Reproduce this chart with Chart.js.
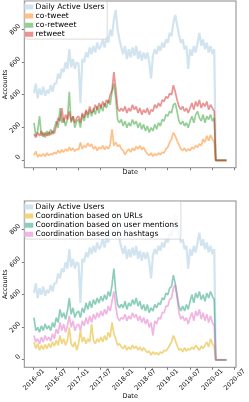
<!DOCTYPE html>
<html><head><meta charset="utf-8">
<script src="https://cdn.jsdelivr.net/npm/chart.js@4.4.1/dist/chart.umd.min.js"></script>
<style>
html,body{margin:0;padding:0;background:#fff;width:249px;height:402px;overflow:hidden;}
canvas{position:absolute;left:0;}
#c1{top:0;width:249px;height:200px;}
#c2{top:200px;width:249px;height:202px;}
</style></head><body>
<canvas id="c1" width="249" height="200"></canvas>
<canvas id="c2" width="249" height="202"></canvas>
<script>
// ---- data (half-month samples starting 2016-01, month index = i/2) ----
const tickMonths = [0, 6, 12, 18, 24, 30, 36, 42, 48, 54];
const yTicks = [0, 200, 400, 600, 800];
const tailMonths = [48.9, 51.8];
const tailValues = [0, 0];

const dau = [
 410,470,380,440,400,450,395,430,410,460,420,470,
 470,530,500,560,540,600,560,680,570,620,560,600,
 590,350,620,600,660,630,690,650,700,660,720,680,
 700,740,690,760,720,800,760,860,920,800,740,690,
 650,700,620,680,630,690,640,700,620,670,610,660,
 620,660,600,500,640,680,650,700,670,720,690,740,
 720,780,760,840,890,830,770,720,740,680,700,560,
 680,640,700,660,720,780,700,740,680,720,660,700,
 650,680];
const coTweet = [
 30,55,20,35,25,40,25,45,30,40,35,50,
 40,60,45,65,50,70,55,80,60,75,55,70,
 65,110,70,90,80,105,85,100,70,85,60,80,
 70,90,65,85,70,95,190,90,110,85,95,70,
 60,35,55,70,50,75,60,85,70,90,65,80,
 55,40,30,45,25,40,30,45,35,50,45,70,
 80,110,130,170,150,120,95,70,60,75,55,70,
 60,80,70,90,80,100,90,130,110,150,120,155,
 130,110];
const coRetweet = [
 230,150,180,270,150,170,140,180,150,190,160,200,
 240,200,320,230,260,210,250,420,230,270,200,240,
 250,200,280,240,300,260,310,270,320,280,330,290,
 340,300,350,320,370,340,420,470,380,250,230,250,
 210,240,200,230,210,250,220,240,200,230,190,220,
 180,210,170,200,180,220,190,230,210,250,240,280,
 270,300,290,340,350,300,240,220,240,210,230,200,
 240,270,230,280,300,260,240,280,230,270,250,280,
 240,260];
const retweet = [
 160,140,170,150,180,145,170,150,175,155,180,165,
 210,260,240,320,230,280,250,300,240,270,230,260,
 270,230,290,260,310,280,330,290,300,340,310,350,
 320,360,330,370,350,400,430,540,440,320,300,320,
 300,330,290,320,300,340,310,330,290,320,280,310,
 290,320,280,310,300,340,320,350,330,370,360,390,
 380,410,400,460,420,370,330,310,330,300,320,290,
 320,350,310,360,330,370,320,350,330,360,310,340,
 320,300];
const urls = [
 110,70,100,60,90,65,95,70,100,75,110,85,
 120,90,150,100,130,90,120,200,100,80,110,60,
 100,180,110,140,100,130,110,220,120,100,130,110,
 140,110,150,120,170,140,230,160,130,90,100,80,
 70,90,60,80,65,90,70,85,60,80,55,75,
 60,45,55,30,50,35,45,30,50,40,60,55,
 70,90,110,150,120,90,60,70,50,75,55,70,
 60,80,65,90,75,60,85,70,90,110,80,130,
 100,80];
const mentions = [
 260,180,200,170,210,180,220,190,210,180,230,200,
 260,230,310,260,290,250,300,380,280,320,260,290,
 300,260,320,290,350,310,360,320,370,340,380,350,
 390,360,400,370,420,390,460,560,420,340,320,340,
 320,360,310,350,330,370,340,380,330,360,310,340,
 300,340,290,320,300,340,320,350,340,380,370,410,
 400,440,450,520,470,400,330,300,330,300,340,310,
 360,400,350,410,380,420,370,400,360,410,380,420,
 390,370];
const hashtags = [
 150,110,130,100,140,110,150,120,140,115,160,130,
 190,160,230,180,220,170,210,270,200,240,180,210,
 220,180,240,210,260,220,270,230,280,250,290,260,
 300,270,310,280,330,300,360,420,330,260,240,260,
 250,280,240,270,250,290,260,280,240,270,230,260,
 220,250,200,230,150,240,220,260,250,290,290,330,
 330,370,380,440,460,380,290,250,270,240,260,220,
 260,290,240,300,270,310,250,290,240,280,230,270,
 230,210];

const topLabels = ['Daily Active Users', 'co-tweet', 'co-retweet', 'retweet'];
const bottomLabels = ['Daily Active Users', 'Coordination based on URLs', 'Coordination based on user mentions', 'Coordination based on hashtags'];

// ---- styling ----
const FONT = 'DejaVu Sans';
const LEG_FS = 7.6, LEG_PAD = 1.5;

function toPoints(values) {
  const pts = values.map((v, i) => ({x: i / 2, y: v}));
  tailMonths.forEach((m, k) => pts.push({x: m, y: tailValues[k]}));
  return pts;
}
function monthLabel(v) {
  const y = 2016 + Math.floor(v / 12);
  const mo = (v % 12) + 1;
  return y + '-' + String(mo).padStart(2, '0');
}

const framePlugin = {
  id: 'frame',
  afterInit(chart) {
    if (chart.legend) chart.legend._layers = () => [];
  },
  afterLayout(chart) {
    if (chart.legend) { chart.legend.top = chart.chartArea.top + 0.7; chart.legend.left = chart.chartArea.left; }
  },
  afterDatasetsDraw(chart) {
    const ctx = chart.ctx, a = chart.chartArea;
    ctx.save();
    ctx.strokeStyle = '#8a8a8a';
    ctx.lineWidth = 1;
    ctx.strokeRect(a.left, a.top, a.right - a.left, a.bottom - a.top);
    const lg = chart.legend;
    if (lg && lg.legendItems) {
      ctx.font = LEG_FS + 'px "' + FONT + '"';
      let maxW = 0;
      lg.legendItems.forEach(it => { maxW = Math.max(maxW, ctx.measureText(it.text).width); });
      const bw = lg.options.labels.boxWidth;
      const textX = lg.left + LEG_PAD + bw + LEG_FS / 2;
      const n = lg.legendItems.length;
      const l = a.left + 0.6, t = a.top + 0.5;
      const r = textX + maxW + 2.8;
      const b = lg.top + LEG_PAD + (n - 1) * (LEG_FS + LEG_PAD) + LEG_FS + 1;
      ctx.beginPath();
      if (ctx.roundRect) ctx.roundRect(l, t, r - l, b - t, 2); else ctx.rect(l, t, r - l, b - t);
      ctx.fillStyle = 'rgba(255,255,255,0.8)';
      ctx.fill();
      ctx.strokeStyle = 'rgba(204,204,204,0.9)';
      ctx.lineWidth = 0.8;
      ctx.stroke();
    }
    ctx.restore();
    if (lg) lg.draw(a);
  }
};

function makeChart(id, H, bottomPx, series, showXLabels, titlePadBottom) {
  const datasets = series.map((s, i) => ({
    label: s.label, data: toPoints(s.values), borderColor: s.color, backgroundColor: s.color,
    swatch: s.swatch, borderWidth: s.width, borderJoinStyle: 'bevel', pointRadius: 0, fill: false, tension: 0,
    order: series.length - i
  }));
  const tickGrid = {display: true, drawOnChartArea: false, drawTicks: true, tickLength: 2.5, color: '#444', lineWidth: 0.7};
  return new Chart(document.getElementById(id), {
    type: 'line',
    data: {datasets},
    options: {
      responsive: false, animation: false, devicePixelRatio: 1, parsing: false, events: [],
      layout: {padding: {left: 0, right: 13, top: 1, bottom: 0}},
      plugins: {
        tooltip: {enabled: false},
        legend: {
          position: 'chartArea', align: 'start',
          labels: {
            font: {family: FONT, size: LEG_FS}, color: '#000', boxWidth: 6, boxHeight: 2, padding: LEG_PAD,
            sort: (p, q) => p.datasetIndex - q.datasetIndex,
            generateLabels: (chart) => chart.data.datasets.map((d, i) => ({
              text: d.label, fillStyle: d.swatch, strokeStyle: d.swatch, lineWidth: 3,
              hidden: false, datasetIndex: i, fontColor: '#000'
            }))
          }
        }
      },
      scales: {
        x: {
          type: 'linear', min: -2.6, max: 54.35,
          afterBuildTicks: s => { s.ticks = tickMonths.map(v => ({value: v})); },
          afterFit: s => { s.height = H - bottomPx; s.paddingLeft = 0; s.paddingRight = 0; },
          grid: tickGrid, border: {display: false},
          ticks: {display: showXLabels, autoSkip: false, minRotation: 45, maxRotation: 45,
                  labelOffset: 9.6, padding: -2.5, color: '#111', font: {family: FONT, size: 6.5},
                  callback: v => monthLabel(v)},
          title: {display: true, text: 'Date', color: '#111', font: {family: FONT, size: 6.5},
                  padding: {top: 0, bottom: titlePadBottom}}
        },
        y: {
          type: 'linear', min: -45, max: 975,
          afterBuildTicks: s => { s.ticks = yTicks.map(v => ({value: v})); },
          afterFit: s => { s.width = 24.3; s.paddingTop = 0; s.paddingBottom = 0; },
          grid: tickGrid, border: {display: false},
          ticks: {minRotation: 45, maxRotation: 45, labelOffset: -4.4, padding: 2.2, color: '#111',
                  font: {family: FONT, size: 6.5}, callback: v => String(v)},
          title: {display: true, text: 'Accounts', color: '#111', font: {family: FONT, size: 6.5},
                  padding: {top: 1.6, bottom: 0}}
        }
      }
    },
    plugins: [framePlugin]
  });
}

makeChart('c1', 200, 167.7, [
  {label: topLabels[0], values: dau,       color: 'rgba(31,119,180,0.2)',  swatch: 'rgb(210,228,240)', width: 2.2},
  {label: topLabels[1], values: coTweet,   color: 'rgba(255,127,14,0.5)',  swatch: 'rgb(255,191,134)', width: 1.7},
  {label: topLabels[2], values: coRetweet, color: 'rgba(44,160,44,0.5)',   swatch: 'rgb(149,207,149)', width: 1.7},
  {label: topLabels[3], values: retweet,   color: 'rgba(214,39,40,0.5)',   swatch: 'rgb(234,147,147)', width: 1.7}
], false, 23.8);

makeChart('c2', 202, 167.3, [
  {label: bottomLabels[0], values: dau,      color: 'rgba(31,119,180,0.2)',  swatch: 'rgb(210,228,240)', width: 2.2},
  {label: bottomLabels[1], values: urls,     color: 'rgba(230,171,2,0.5)',   swatch: 'rgb(242,213,128)', width: 1.7},
  {label: bottomLabels[2], values: mentions, color: 'rgba(27,158,119,0.5)',  swatch: 'rgb(141,206,187)', width: 1.7},
  {label: bottomLabels[3], values: hashtags, color: 'rgba(225,110,195,0.5)', swatch: 'rgb(240,182,225)', width: 1.7}
], true, 1.4);
</script></body></html>
